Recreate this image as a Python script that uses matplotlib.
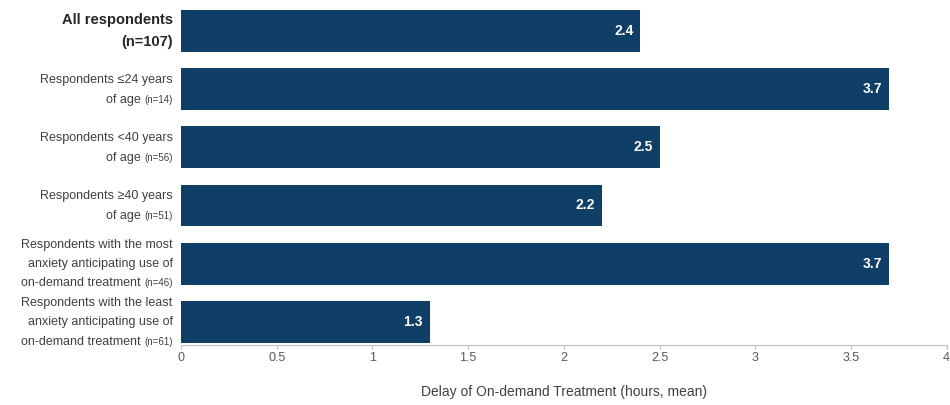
import matplotlib.pyplot as plt

plt.rcParams['font.family'] = ['Liberation Sans', 'DejaVu Sans']

# Data
main_lines = [
    ['All respondents', '(n=107)'],
    ['Respondents \u226424 years', 'of age '],
    ['Respondents <40 years', 'of age '],
    ['Respondents \u226540 years', 'of age '],
    ['Respondents with the most', 'anxiety anticipating use of', 'on-demand treatment '],
    ['Respondents with the least', 'anxiety anticipating use of', 'on-demand treatment '],
]
n_labels = [None, '(n=14)', '(n=56)', '(n=51)', '(n=46)', '(n=61)']
values = [2.4, 3.7, 2.5, 2.2, 3.7, 1.3]
xticks = [0, 0.5, 1, 1.5, 2, 2.5, 3, 3.5, 4]
xtick_labels = ['0', '0.5', '1', '1.5', '2', '2.5', '3', '3.5', '4']

bar_color = '#0f3e66'
text_color = '#404040'

fig = plt.figure(figsize=(9.5, 4.05), dpi=100)
ax = fig.add_axes([0.1905, 0.148, 0.806, 0.84])

pos = list(range(len(values)))
ax.barh(pos, values, height=0.72, color=bar_color)
ax.set_ylim(5.4, -0.45)
ax.set_xlim(0, 4)

for p, v in zip(pos, values):
    ax.annotate(f'{v}', xy=(v, p), xytext=(-5, 0), textcoords='offset points',
                ha='right', va='center', color='white', fontweight='bold', fontsize=10)

# category labels (drawn by hand to mix font sizes)
for p, lines, nl in zip(pos, main_lines, n_labels):
    k = len(lines)
    bold = (p == 0)
    lh = 15.5 if bold else 13.2  # points between lines
    for i, line in enumerate(lines):
        off = (i - (k - 1) / 2) * lh
        is_last = (i == k - 1)
        if is_last and nl is not None:
            small = ax.annotate(nl, xy=(0, p), xycoords=('axes fraction', 'data'),
                                xytext=(-6, -off - 3.2), textcoords='offset points',
                                ha='right', va='baseline', fontsize=7, color=text_color)
            ax.annotate(line, xy=(0, p), xycoords=(small, 'data'),
                        xytext=(0, -off - 3.2), textcoords='offset points',
                        ha='right', va='baseline', fontsize=9, color=text_color)
        else:
            ax.annotate(line, xy=(0, p), xycoords=('axes fraction', 'data'),
                        xytext=(-6, -off), textcoords='offset points',
                        ha='right', va='center',
                        fontsize=10.5 if bold else 9,
                        fontweight='bold' if bold else 'normal',
                        color='#262626' if bold else text_color)

ax.set_yticks([])
ax.set_xticks(xticks)
ax.set_xticklabels(xtick_labels)
ax.tick_params(axis='x', colors='#bfbfbf', labelcolor='#595959', labelsize=9,
               length=3, pad=2)
for s in ['top', 'right', 'left']:
    ax.spines[s].set_visible(False)
ax.spines['bottom'].set_color('#bfbfbf')
ax.set_xlabel('Delay of On-demand Treatment (hours, mean)', fontsize=10,
              color=text_color, labelpad=15)

fig.savefig('out.png', dpi=100)
